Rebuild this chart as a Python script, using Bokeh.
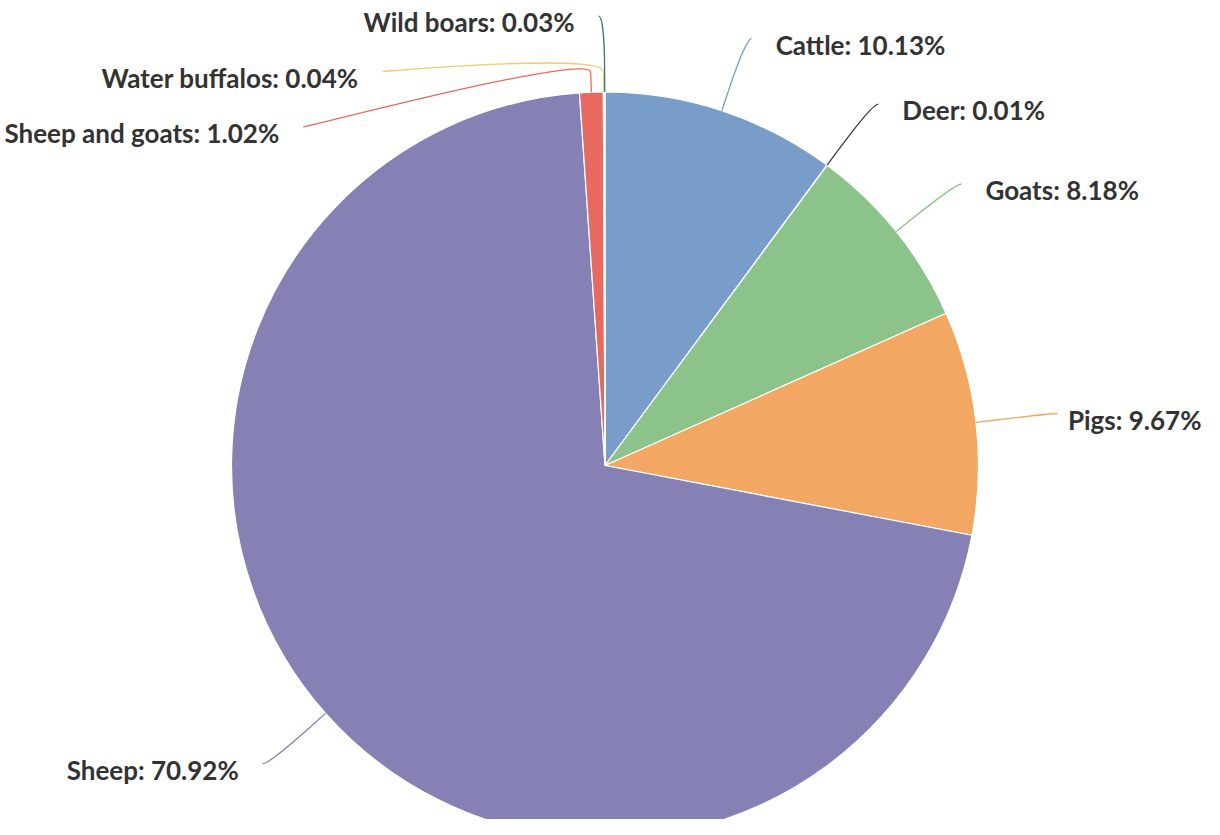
import math
from bokeh.plotting import figure
from bokeh.models import ColumnDataSource, Range1d
from bokeh.core.properties import value
from bokeh.embed import file_html
from bokeh.resources import INLINE

# ---- data ----
categories = ["Cattle", "Deer", "Goats", "Pigs", "Sheep", "Sheep and goats",
              "Water buffalos", "Wild boars"]
shares = [10.13, 0.01, 8.18, 9.67, 70.92, 1.02, 0.04, 0.03]
colors = ["#789DC9", "#3B3B3B", "#8CC38A", "#F2A862", "#8581B4", "#E8695F",
          "#EFCB6A", "#3F7480"]

# ---- layout ----
W, H = 1204, 819
CXP, CYP = 604.5, 465.0      # pie centre (pixels from top-left)
R = 373.5                   # pie radius
LD = 76                     # label distance
PAD = 6                     # x padding of label anchor
BREAK = 20                  # connector break distance
SPACING = 55.5              # min vertical spacing of labels
TEXT_GAP = 24
TEXT_DY = 6
FONT_PX = 26
CHAR_EM = 0.467             # rough average glyph width (em) for clamping

def dx(px):
    return px

def dy(py):
    return H - py

total = sum(shares)
starts, ends, mids = [], [], []
acc = 0.0
for s in shares:
    a0 = acc / total * 2 * math.pi
    acc += s
    a1 = acc / total * 2 * math.pi
    starts.append(a0)
    ends.append(a1)
    mids.append((a0 + a1) / 2)

p = figure(width=W, height=H, x_range=Range1d(0, W), y_range=Range1d(0, H),
           output_backend="svg", toolbar_location=None,
           x_axis_location=None, y_axis_location=None, min_border=0)
p.grid.visible = False
p.outline_line_color = None
p.background_fill_color = "white"
p.border_fill_color = "white"

src = ColumnDataSource(dict(
    x=[dx(CXP)] * len(shares), y=[dy(CYP)] * len(shares),
    start=[math.pi / 2 - a for a in starts],
    end=[math.pi / 2 - a for a in ends],
    color=colors))
p.wedge(x="x", y="y", radius=R, start_angle="start", end_angle="end",
        direction="clock", fill_color="color", line_color="white",
        line_width=1.2, source=src)

# ---- label placement ----
RL = R + LD
info = []
for i, th in enumerate(mids):
    left = th > math.pi
    ny = CYP - RL * math.cos(th)
    info.append(dict(i=i, left=left, y=ny, th=th))

for side in (True, False):
    group = sorted([d for d in info if d["left"] == side], key=lambda d: d["y"])
    prev = None
    for d in group:
        if prev is not None and d["y"] < prev + SPACING:
            d["y"] = prev + SPACING
        prev = d["y"]

bx0, by0, bx1, by1, bcx0, bcy0, bcx1, bcy1, bcol = [], [], [], [], [], [], [], [], []
sx0, sy0, sx1, sy1 = [], [], [], []
tl_x, tl_y, tl_t = [], [], []
tr_x, tr_y, tr_t = [], [], []
for d in info:
    i, th, left = d["i"], d["th"], d["left"]
    sgn = -1 if left else 1
    ey = d["y"]
    h = max(RL * RL - (ey - CYP) ** 2, 0.0)
    ex = CXP + sgn * (math.sqrt(h) + PAD)
    tx, ty = CXP + R * math.sin(th), CYP - R * math.cos(th)
    bxp, byp = CXP + (R + BREAK) * math.sin(th), CYP - (R + BREAK) * math.cos(th)
    bx0.append(dx(ex)); by0.append(dy(ey))
    bx1.append(dx(bxp)); by1.append(dy(byp))
    bcx0.append(dx(ex - sgn * 5)); bcy0.append(dy(ey))
    bcx1.append(dx(2 * bxp - tx)); bcy1.append(dy(2 * byp - ty))
    bcol.append(colors[i])
    sx0.append(dx(bxp)); sy0.append(dy(byp)); sx1.append(dx(tx)); sy1.append(dy(ty))
    label = f"{categories[i]}: {shares[i]:.2f}%"
    if left:
        tl_x.append(dx(ex - TEXT_GAP)); tl_y.append(dy(ey + TEXT_DY)); tl_t.append(label)
    else:
        est_w = CHAR_EM * FONT_PX * len(label)
        tx0 = min(ex + TEXT_GAP, W - 3 - est_w)
        tr_x.append(dx(tx0)); tr_y.append(dy(ey + TEXT_DY)); tr_t.append(label)

p.bezier(x0=bx0, y0=by0, x1=bx1, y1=by1, cx0=bcx0, cy0=bcy0, cx1=bcx1, cy1=bcy1,
         line_color=bcol, line_width=1.3)
p.segment(x0=sx0, y0=sy0, x1=sx1, y1=sy1, line_color=bcol, line_width=1.3)

common = dict(text_font=value("Lato"), text_font_style="bold",
              text_font_size=f"{FONT_PX}px", text_color="#333333",
              text_baseline="middle")
p.text(x=tl_x, y=tl_y, text=tl_t, text_align="right", **common)
p.text(x=tr_x, y=tr_y, text=tr_t, text_align="left", **common)

open("out.html", "w").write(file_html(p, INLINE))
